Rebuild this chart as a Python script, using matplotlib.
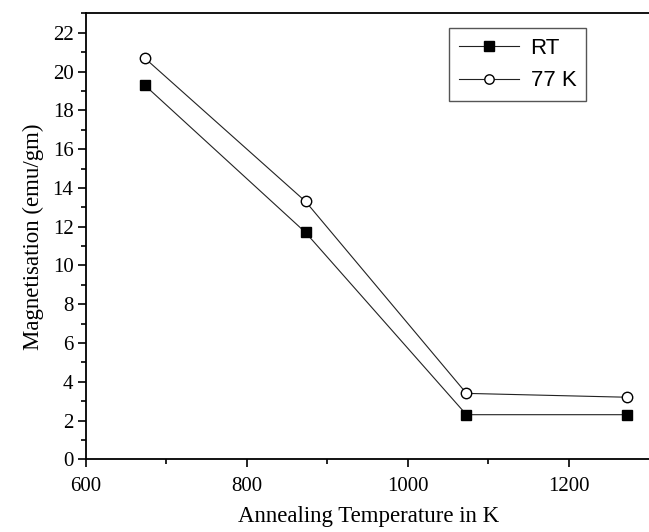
import numpy as np
import matplotlib
matplotlib.use('Agg')
import matplotlib.pyplot as plt
from matplotlib.ticker import MultipleLocator, FixedLocator

# data
temps = [673, 873, 1073, 1273]
magRT = [19.3, 11.7, 2.3, 2.3]
mag77 = [20.7, 13.3, 3.4, 3.2]
seriesNames = ['RT', '77 K']

plt.rcParams['font.family'] = 'Liberation Serif'

fig = plt.figure(figsize=(6.49, 5.32), dpi=100)
ax = fig.add_axes([0.1325, 0.1367, 0.87, 0.838])

ax.plot(temps, magRT, color='#222222', lw=0.8, marker='s', ms=7.5,
        mfc='black', mec='black', label=seriesNames[0])
ax.plot(temps, mag77, color='#222222', lw=0.8, marker='o', ms=7.5,
        mfc='white', mec='black', mew=1.0, label=seriesNames[1])

ax.set_xlim(600, 1302)
ax.set_ylim(0, 23)
ax.xaxis.set_major_locator(FixedLocator([600, 800, 1000, 1200]))
ax.xaxis.set_minor_locator(FixedLocator([700, 900, 1100]))
ax.yaxis.set_major_locator(MultipleLocator(2))
ax.yaxis.set_minor_locator(MultipleLocator(1))

ax.tick_params(which='both', direction='out', top=False, right=False, width=1.2)
ax.tick_params(which='major', length=6, labelsize=15, pad=3)
ax.tick_params(axis='x', which='major', pad=7)
ax.tick_params(which='minor', length=3.5)
for s in ['left', 'bottom', 'top']:
    ax.spines[s].set_linewidth(1.3)
ax.spines['right'].set_visible(False)

ax.set_xlabel('Annealing Temperature in K', fontsize=16.5, labelpad=7)
ax.set_ylabel('Magnetisation (emu/gm)', fontsize=16.5, labelpad=6)

leg = ax.legend(loc='upper right', bbox_to_anchor=(0.886, 0.967), borderaxespad=0,
                fancybox=False, edgecolor='#555555', framealpha=1,
                prop={'family': 'Liberation Sans', 'size': 16},
                handlelength=2.7, handletextpad=0.5, labelspacing=0.5,
                borderpad=0.45, markerscale=0.9)
leg.get_frame().set_linewidth(1.0)

plt.savefig('out.png', dpi=100)
